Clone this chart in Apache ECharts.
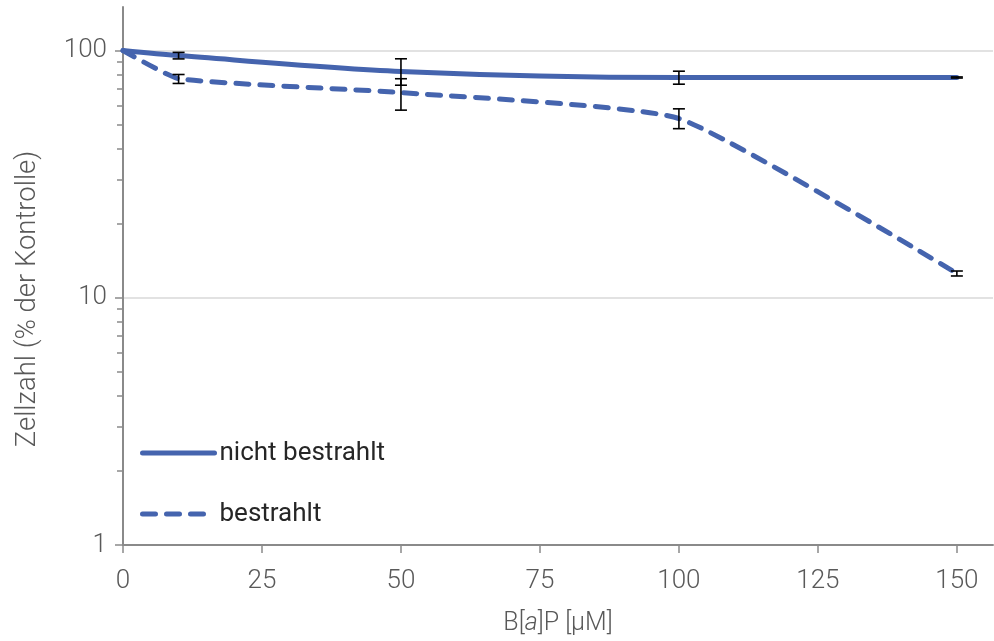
<!DOCTYPE html>
<html>
<head>
<meta charset="utf-8">
<script src="https://cdn.jsdelivr.net/npm/echarts@6/dist/echarts.min.js"></script>
<style>html,body{margin:0;padding:0;background:#fff}#c{width:994px;height:641px}</style>
</head>
<body>
<div id="c"></div>
<script>
// ---- data ----
var doses = [0, 10, 50, 100, 150];
var seriesNames = ['nicht bestrahlt', 'bestrahlt'];
var nichtMean = [100, 95.4, 82.3, 77.8, 77.8];
var nichtLow  = [null, 92.5, 72.4, 73.1, 77.4];
var nichtHigh = [null, 98.3, 92.6, 82.5, 78.2];
var bestMean  = [100, 77.0, 67.6, 53.1, 12.55];
var bestLow   = [null, 73.6, 57.4, 48.3, 12.25];
var bestHigh  = [null, 80.0, 76.9, 58.1, 12.83];
var xTicks = [0, 25, 50, 75, 100, 125, 150];
var yMajor = [1, 10, 100];
var yMinor = [2, 3, 4, 5, 6, 7, 8, 9, 20, 30, 40, 50, 60, 70, 80, 90];

function pairs(xs, ys) { return xs.map(function (x, i) { return [x, ys[i]]; }); }
function errData(xs, lo, hi) {
  var out = [];
  xs.forEach(function (x, i) { if (lo[i] != null) out.push([x, lo[i], hi[i]]); });
  return out;
}

var BLUE = '#4564ae';
var AXIS = '#8a8a8a';
var LABEL = '#595959';
var FONT = 'Roboto';
var LW = 5;
var DASH = [13, 11];

function errRender(params, api) {
  var x = api.value(0), lo = api.value(1), hi = api.value(2);
  var a = api.coord([x, lo]), b = api.coord([x, hi]);
  var w = 6;
  var st = { stroke: '#000', lineWidth: 1.6 };
  return {
    type: 'group',
    children: [
      { type: 'line', shape: { x1: a[0], y1: a[1], x2: b[0], y2: b[1] }, style: st },
      { type: 'line', shape: { x1: a[0] - w, y1: a[1], x2: a[0] + w, y2: a[1] }, style: st },
      { type: 'line', shape: { x1: b[0] - w, y1: b[1], x2: b[0] + w, y2: b[1] }, style: st }
    ]
  };
}

var chart = echarts.init(document.getElementById('c'), null, { renderer: 'canvas' });
chart.setOption({
  animation: false,
  backgroundColor: '#fff',
  textStyle: { fontFamily: FONT },
  grid: { left: 123, right: 1, top: 7, bottom: 95, containLabel: false },
  legend: {
    orient: 'vertical',
    left: 140,
    top: 438,
    padding: 0,
    itemWidth: 72,
    itemHeight: 14,
    itemGap: 31,
    data: seriesNames,
    itemStyle: { opacity: 0 },
    lineStyle: { width: LW, cap: 'round' },
    textStyle: { fontFamily: FONT, fontSize: 26, color: '#262626', fontWeight: 400, lineHeight: 30 }
  },
  xAxis: {
    type: 'value',
    min: 0,
    max: 156.5,
    name: '{n|B[}{i|a}{n|]P [µM]}',
    nameLocation: 'middle',
    nameGap: 66,
    nameTextStyle: {
      rich: {
        n: { fontFamily: FONT, fontSize: 25, fontWeight: 300, color: LABEL },
        i: { fontFamily: FONT, fontSize: 25, fontWeight: 300, fontStyle: 'italic', color: LABEL }
      }
    },
    axisLine: { show: true, lineStyle: { color: AXIS, width: 2 } },
    axisTick: { show: true, customValues: xTicks, length: 8, lineStyle: { color: AXIS, width: 1.5 } },
    axisLabel: { customValues: xTicks, margin: 23, fontFamily: FONT, fontSize: 26, fontWeight: 300, color: LABEL },
    splitLine: { show: false }
  },
  yAxis: [{
    type: 'log',
    logBase: 10,
    min: 1,
    max: 150,
    name: 'Zellzahl (% der Kontrolle)',
    nameLocation: 'middle',
    nameGap: 81,
    nameTextStyle: { fontFamily: FONT, fontSize: 27.5, fontWeight: 300, color: LABEL, padding: [0, 0, 0, -46] },
    axisLine: { show: true, lineStyle: { color: AXIS, width: 2 } },
    axisTick: { show: true, customValues: yMajor, length: 8, lineStyle: { color: AXIS, width: 1.5 } },
    axisLabel: { customValues: yMajor, margin: 16, fontFamily: FONT, fontSize: 26, fontWeight: 300, color: LABEL },
    splitLine: { show: true, lineStyle: { color: '#d9d9d9', width: 1.5 } }
  }, {
    type: 'log',
    logBase: 10,
    min: 1,
    max: 150,
    position: 'left',
    axisLine: { show: false },
    axisTick: { show: true, customValues: yMinor, length: 6, lineStyle: { color: AXIS, width: 1.5 } },
    axisLabel: { show: false },
    splitLine: { show: false }
  }],
  series: [
    {
      name: seriesNames[0],
      type: 'line',
      data: pairs(doses, nichtMean),
      symbol: 'none',
      smooth: 0.3,
      lineStyle: { color: BLUE, width: LW, cap: 'round' },
      itemStyle: { color: BLUE },
      z: 3
    },
    {
      name: seriesNames[1],
      type: 'line',
      data: pairs(doses, bestMean),
      symbol: 'none',
      smooth: 0.15,
      lineStyle: { color: BLUE, width: LW, type: DASH, cap: 'round' },
      itemStyle: { color: BLUE },
      z: 3
    },
    {
      type: 'custom',
      data: errData(doses, nichtLow, nichtHigh),
      renderItem: errRender,
      encode: { x: 0, y: [1, 2] },
      z: 5
    },
    {
      type: 'custom',
      data: errData(doses, bestLow, bestHigh),
      renderItem: errRender,
      encode: { x: 0, y: [1, 2] },
      z: 5
    }
  ]
});
</script>
</body>
</html>
